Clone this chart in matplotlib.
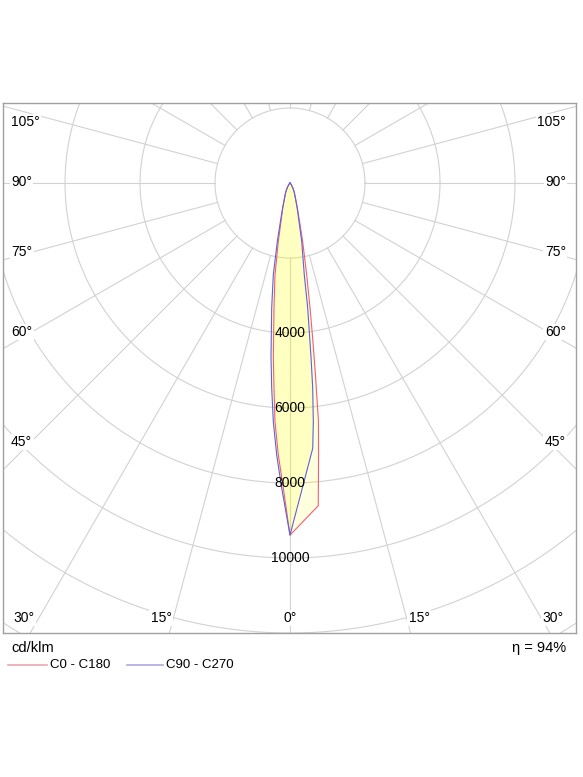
import numpy as np
import matplotlib
matplotlib.use("Agg")
import matplotlib.pyplot as plt
from matplotlib.lines import Line2D

plt.rcParams['font.family'] = ['Liberation Sans', 'DejaVu Sans']

# luminous intensity (cd/klm) against gamma angle, one list per half plane
gamma_c0 = [0, 5, 6, 6.8, 7.6, 8.3, 9.1, 10.3, 12.2, 14, 16.3, 20, 25, 30, 35, 45, 60, 90]
int_c0 = [9390, 8640, 7290, 6410, 5100, 4200, 3380, 2490, 1600, 1050, 690, 420, 270, 150, 70, 20, 0, 0]

gamma_c180 = [0, 1.26, 2.46, 3.6, 4.46, 5.49, 7.29, 9.26, 11.3, 13.5, 16.3, 20, 25, 30, 35, 45, 60, 90]
int_c180 = [9390, 8135, 7260, 6380, 5480, 4650, 3360, 2490, 1600, 1000, 690, 420, 270, 150, 70, 20, 0, 0]

gamma_c90 = [0, 1.56, 2.8, 4.0, 5.1, 6.24, 8.33, 10.3, 12.2, 14, 16.3, 20, 25, 30, 35, 45, 60, 90]
int_c90 = [9390, 8137, 7262, 6381, 5488, 4659, 3369, 2493, 1602, 1050, 700, 430, 275, 150, 70, 20, 0, 0]

gamma_c270 = [0, 4.9, 5.58, 6.32, 6.89, 8.06, 8.84, 11.3, 13.5, 16.3, 20, 25, 30, 35, 45, 60, 90]
int_c270 = [9390, 7100, 6395, 5500, 4666, 3366, 2483, 1597, 1000, 680, 410, 265, 150, 70, 20, 0, 0]

ring_values = [2000, 4000, 6000, 8000, 10000, 12000, 14000, 16000]
ring_labels = [4000, 6000, 8000, 10000]
side_angles = [105, 90, 75, 60, 45]
bottom_angles = [30, 15, 0, 15, 30]
efficiency = 94

W, H = 583, 777
CX, CY = 290, 183          # pole of the diagram in pixels
UPP = 2000 / 75.0          # cd/klm per pixel


def fig_xy(x, y):
    return x / W, 1 - y / H


def half_plane(gammas, values, side):
    g = np.radians(np.array(gammas, dtype=float))
    v = np.array(values, dtype=float)
    return side * v * np.sin(g), -v * np.cos(g)


def plane_outline(g_right, i_right, g_left, i_left):
    xr, yr = half_plane(g_right, i_right, 1)
    xl, yl = half_plane(g_left, i_left, -1)
    x = np.concatenate([xl[::-1], xr])
    y = np.concatenate([yl[::-1], yr])
    return x, y


fig = plt.figure(figsize=(W / 100, H / 100), dpi=100)
ax = fig.add_axes([3 / W, (H - 633) / H, 573 / W, 530 / H])
ax.set_xlim((3 - CX) * UPP, (576 - CX) * UPP)
ax.set_ylim(-(633 - CY) * UPP, (CY - 103) * UPP)
ax.set_xticks([])
ax.set_yticks([])
for s in ax.spines.values():
    s.set_color('#a0a0a0')
    s.set_linewidth(1.0)

grid_col = '#d2d2d2'
t = np.linspace(0, 2 * np.pi, 721)
for r in ring_values:
    ax.plot(r * np.cos(t), r * np.sin(t), color=grid_col, lw=0.8, zorder=1)
for a in range(0, 360, 15):
    ang = np.radians(a)
    ax.plot([2000 * np.sin(ang), 20000 * np.sin(ang)],
            [-2000 * np.cos(ang), -20000 * np.cos(ang)],
            color=grid_col, lw=0.8, zorder=1)

x1, y1 = plane_outline(gamma_c0, int_c0, gamma_c180, int_c180)
x2, y2 = plane_outline(gamma_c270, int_c270, gamma_c90, int_c90)
ax.fill(x1, y1, color='#ffff00', alpha=0.13, lw=0, zorder=2)
ax.fill(x2, y2, color='#ffff00', alpha=0.13, lw=0, zorder=2)
red = '#f06070'
blue = '#6060e0'
ax.plot(x1, y1, color=red, lw=0.8, zorder=3)
ax.plot(x2, y2, color=blue, lw=0.8, zorder=3)

fs = 10
for v in ring_labels:
    ax.text(0, -v, str(v), ha='center', va='center', fontsize=fs, zorder=4)

box = dict(facecolor='white', edgecolor='none', pad=1.0)
side_y = [122, 182, 252, 332, 442]
for a, yy in zip(side_angles, side_y):
    fig.text(*fig_xy(11, yy), f"{a}°", ha='left', va='center', fontsize=fs, bbox=box)
    fig.text(*fig_xy(566, yy), f"{a}°", ha='right', va='center', fontsize=fs, bbox=box)

bottom_x = [13, 161, 290, 419, 564]
bottom_ha = ['left', 'center', 'center', 'center', 'right']
for a, xx, ha in zip(bottom_angles, bottom_x, bottom_ha):
    fig.text(*fig_xy(xx, 618), f"{a}°", ha=ha, va='center', fontsize=fs, bbox=box)

fig.text(*fig_xy(11, 648), "cd/klm", ha='left', va='center', fontsize=10.5)
fig.text(*fig_xy(566, 648), f"η = {efficiency}%", ha='right', va='center', fontsize=10.5)

for (xa, xb), col, label, xt in [((8, 47), '#e8a8b2', "C0 - C180", 50),
                                  ((127, 163), '#aaaae2', "C90 - C270", 166)]:
    pa = fig_xy(xa, 665)
    pb = fig_xy(xb, 665)
    fig.add_artist(Line2D([pa[0], pb[0]], [pa[1], pb[1]], color=col, lw=1.2,
                          transform=fig.transFigure))
    fig.text(*fig_xy(xt, 665), label, ha='left', va='center', fontsize=9.5)

fig.savefig('out.png', dpi=100, facecolor='white')
